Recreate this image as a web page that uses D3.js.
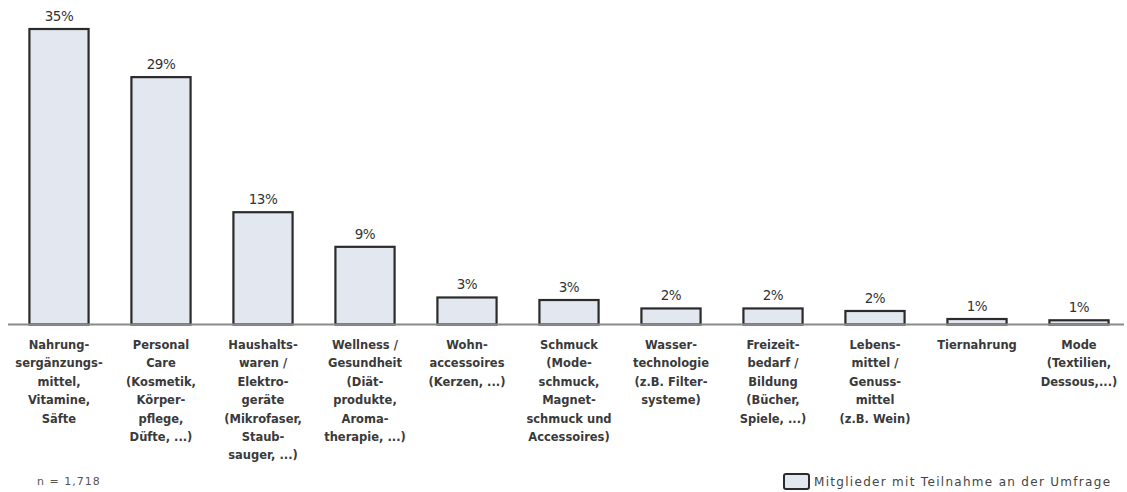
<!DOCTYPE html>
<html>
<head>
<meta charset="utf-8">
<script src="https://cdn.jsdelivr.net/npm/d3@7"></script>
<style>
  body { margin: 0; background: #fff; }
  svg { display: block; }
</style>
</head>
<body>
<svg id="chart"></svg>
<script>
// categories (one entry per bar, already split in lines)
const categories = [
  ["Nahrung-", "sergänzungs-", "mittel,", "Vitamine,", "Säfte"],
  ["Personal", "Care", "(Kosmetik,", "Körper-", "pflege,", "Düfte, ...)"],
  ["Haushalts-", "waren /", "Elektro-", "geräte", "(Mikrofaser,", "Staub-", "sauger, ...)"],
  ["Wellness /", "Gesundheit", "(Diät-", "produkte,", "Aroma-", "therapie, ...)"],
  ["Wohn-", "accessoires", "(Kerzen, ...)"],
  ["Schmuck", "(Mode-", "schmuck,", "Magnet-", "schmuck und", "Accessoires)"],
  ["Wasser-", "technologie", "(z.B. Filter-", "systeme)"],
  ["Freizeit-", "bedarf /", "Bildung", "(Bücher,", "Spiele, ...)"],
  ["Lebens-", "mittel /", "Genuss-", "mittel", "(z.B. Wein)"],
  ["Tiernahrung"],
  ["Mode", "(Textilien,", "Dessous,...)"]
];

// share in percent
const values = [35.0, 29.3, 13.3, 9.2, 3.2, 2.9, 1.9, 1.9, 1.6, 0.65, 0.5];

// labels printed above the bars
const valueLabels = ["35%", "29%", "13%", "9%", "3%", "3%", "2%", "2%", "2%", "1%", "1%"];

const sampleNote = "n = 1,718";
const legendLabel = "Mitglieder mit Teilnahme an der Umfrage";

const width = 1127, height = 492;
const baseline = 324.5;

const svg = d3.select("#chart")
  .attr("width", width)
  .attr("height", height);

const keys = categories.map((c, i) => i);

const x = d3.scaleBand()
  .domain(keys)
  .range([8, 1130])
  .paddingInner(0.42)
  .paddingOuter(0.21);

const y = d3.scaleLinear()
  .domain([0, 35])
  .range([baseline, 29]);

// Bars
svg.selectAll(".bar")
  .data(values)
  .enter().append("rect")
  .attr("class", "bar")
  .attr("x", (d, i) => x(i))
  .attr("y", d => y(d))
  .attr("width", x.bandwidth())
  .attr("height", d => baseline - y(d))
  .attr("fill", "#e3e7ef")
  .attr("stroke", "#2b2b2b")
  .attr("stroke-width", 2.2);

// Axis line
svg.append("line")
  .attr("x1", 8).attr("x2", 1124)
  .attr("y1", baseline).attr("y2", baseline)
  .attr("stroke", "#8a8a8a")
  .attr("stroke-width", 2);

// Value labels
svg.selectAll(".val")
  .data(values)
  .enter().append("text")
  .attr("class", "val")
  .attr("x", (d, i) => x(i) + x.bandwidth() / 2)
  .attr("y", d => y(d) - 8)
  .attr("text-anchor", "middle")
  .style("font-family", "DejaVu Sans, sans-serif")
  .style("font-size", "13.5px")
  .style("fill", "#333")
  .style("letter-spacing", "-0.5px")
  .text((d, i) => valueLabels[i]);

// Category labels
const cat = svg.selectAll(".cat")
  .data(categories)
  .enter().append("text")
  .attr("class", "cat")
  .attr("text-anchor", "middle")
  .style("font-family", "DejaVu Sans, sans-serif")
  .style("font-size", "11.5px")
  .style("font-weight", "bold")
  .style("fill", "#3a3a3a");

cat.selectAll("tspan")
  .data((d, i) => d.map(line => ({ line, i })))
  .enter().append("tspan")
  .attr("x", d => x(d.i) + x.bandwidth() / 2)
  .attr("y", (d, j) => 349 + j * 18.4)
  .text(d => d.line);

// sample size
svg.append("text")
  .attr("x", 37)
  .attr("y", 485)
  .style("font-family", "DejaVu Sans, sans-serif")
  .style("font-size", "11px")
  .style("letter-spacing", "1px")
  .style("fill", "#555")
  .text(sampleNote);

// Legend
const legend = svg.append("g").attr("transform", "translate(784,474)");
legend.append("rect")
  .attr("width", 25).attr("height", 15)
  .attr("rx", 2)
  .attr("fill", "#e3e7ef")
  .attr("stroke", "#2b2b2b")
  .attr("stroke-width", 2);
legend.append("text")
  .attr("x", 30)
  .attr("y", 12)
  .style("font-family", "DejaVu Sans, sans-serif")
  .style("font-size", "12px")
  .style("letter-spacing", "1.3px")
  .style("fill", "#444")
  .text(legendLabel);
</script>
</body>
</html>
